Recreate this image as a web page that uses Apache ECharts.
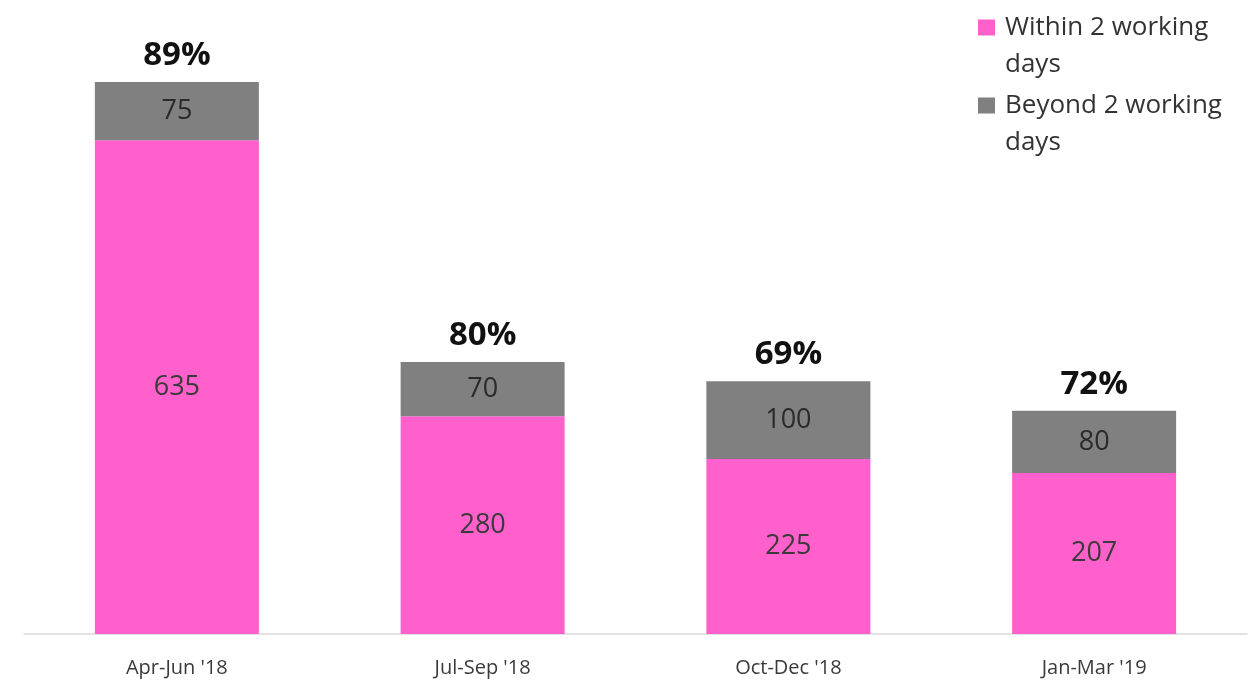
<!DOCTYPE html>
<html>
<head>
<meta charset="utf-8">
<script src="https://cdn.jsdelivr.net/npm/echarts@6/dist/echarts.min.js"></script>
<style>
  html, body { margin: 0; padding: 0; background: #ffffff; }
  #chart { width: 1250px; height: 682px; }
</style>
</head>
<body>
<div id="chart"></div>
<script>
// Quarterly counts, split by response time
var categories = ["Apr-Jun '18", "Jul-Sep '18", "Oct-Dec '18", "Jan-Mar '19"];
var withinTwoDays = [635, 280, 225, 207];
var beyondTwoDays = [75, 70, 100, 80];
var seriesNames = ['Within 2 working days', 'Beyond 2 working days'];

// Share handled within 2 working days, shown above each stack
var shareLabels = withinTwoDays.map(function (v, i) {
  return Math.round(100 * v / (v + beyondTwoDays[i])) + '%';
});

var FONT = '"Open Sans", "Noto Sans", sans-serif';

var chart = echarts.init(document.getElementById('chart'), null, { renderer: 'canvas' });

chart.setOption({
  animation: false,
  backgroundColor: '#ffffff',
  grid: { left: 24, right: 3, top: 12, bottom: 48, containLabel: false },
  legend: {
    data: seriesNames,
    orient: 'vertical',
    left: 978,
    top: -28,
    padding: 0,
    itemWidth: 17,
    itemHeight: 16,
    itemGap: -33,
    icon: 'rect',
    selectedMode: false,
    // a blank leading line keeps the swatch level with the first text line
    formatter: function (name) {
      return '\n' + name.replace(' working days', ' working\ndays');
    },
    textStyle: {
      fontFamily: FONT,
      fontSize: 26,
      color: '#333333',
      lineHeight: 37,
      padding: [0, 0, 0, 5]
    }
  },
  xAxis: {
    type: 'category',
    data: categories,
    axisLine: { lineStyle: { color: '#d9d9d9', width: 1.5 } },
    axisTick: { show: false },
    axisLabel: {
      fontFamily: FONT,
      fontSize: 20,
      color: '#3a3a3a',
      margin: 24
    }
  },
  yAxis: {
    type: 'value',
    min: 0,
    max: 800,
    show: false,
    splitLine: { show: false }
  },
  series: [
    {
      name: seriesNames[0],
      type: 'bar',
      stack: 'total',
      barWidth: 164,
      data: withinTwoDays,
      itemStyle: { color: '#ff60cb' },
      label: {
        show: true,
        position: 'inside',
        fontFamily: FONT,
        fontSize: 27,
        color: '#3a3a3a'
      }
    },
    {
      name: seriesNames[1],
      type: 'bar',
      stack: 'total',
      barWidth: 164,
      data: beyondTwoDays,
      itemStyle: { color: '#808080' },
      label: {
        show: true,
        position: 'inside',
        fontFamily: FONT,
        fontSize: 27,
        color: '#2a2a2a'
      }
    },
    {
      name: 'share',
      type: 'bar',
      stack: 'total',
      barWidth: 164,
      silent: true,
      data: categories.map(function () { return 0; }),
      itemStyle: { color: 'transparent' },
      label: {
        show: true,
        position: 'top',
        distance: 10,
        fontFamily: FONT,
        fontSize: 33,
        fontWeight: 'bold',
        color: '#111111',
        formatter: function (p) { return shareLabels[p.dataIndex]; }
      }
    }
  ]
});
</script>
</body>
</html>
